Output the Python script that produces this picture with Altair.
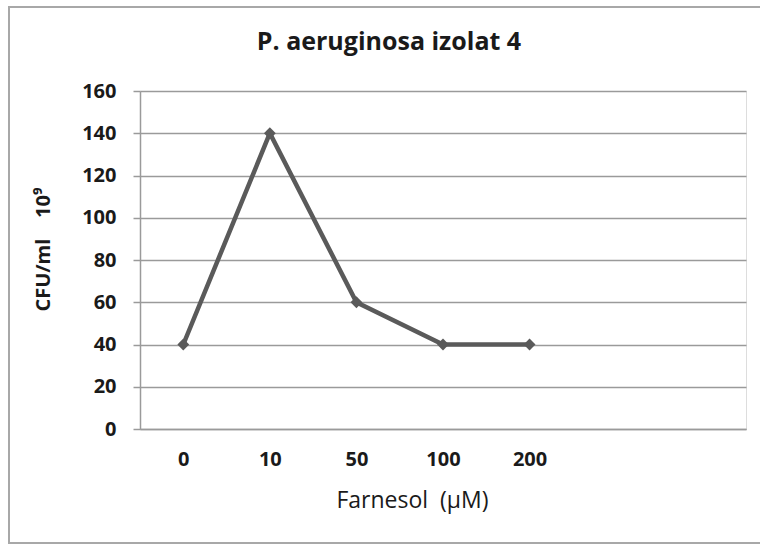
import altair as alt
import pandas as pd

concentrations = ["0", "10", "50", "100", "200"]
cfu_values = [40, 140, 60, 40, 40]
category_domain = ["0", "10", "50", "100", "200", " ", "  "]
y_ticks = [0, 20, 40, 60, 80, 100, 120, 140, 160]
chart_title = "P. aeruginosa izolat 4"
x_title = "Farnesol\u00a0\u00a0(µM)"
y_title = "CFU/ml\u00a0\u00a0\u00a0\u00a010⁹"

df = pd.DataFrame({"conc": concentrations, "cfu": cfu_values})

FONT = "Open Sans"
TEXT = "#1a1a1a"
GRID = "#9a9a9a"
LINE = "#5a5a5a"

x_enc = alt.X(
    "conc:N",
    sort=category_domain,
    scale=alt.Scale(type="point", domain=category_domain, padding=0.5),
    axis=alt.Axis(
        title=x_title,
        labelAngle=0,
        ticks=False,
        grid=False,
        domainColor=GRID,
        domainWidth=1.5,
        labelPadding=20,
        labelFont=FONT,
        labelFontWeight="bold",
        labelFontSize=20,
        labelColor=TEXT,
        titleFont=FONT,
        titleFontWeight=500,
        titleFontSize=23,
        titleColor=TEXT,
        titleX=272,
        titleY=78,
        titleAlign="center",
        titleBaseline="alphabetic",
    ),
)

y_enc = alt.Y(
    "cfu:Q",
    scale=alt.Scale(domain=[0, 160], nice=False),
    axis=alt.Axis(
        title=y_title,
        values=y_ticks,
        grid=True,
        gridColor=GRID,
        gridWidth=1.5,
        domainColor=GRID,
        domainWidth=1.5,
        tickColor=GRID,
        tickWidth=1.5,
        tickSize=7,
        labelPadding=17,
        labelFont=FONT,
        labelFontWeight="bold",
        labelFontSize=20,
        labelColor=TEXT,
        titleFont=FONT,
        titleFontWeight="bold",
        titleFontSize=20,
        titleColor=TEXT,
        titleX=-97,
        titleY=158,
        titleAngle=-90,
        titleAlign="center",
        titleBaseline="middle",
    ),
)

line = alt.Chart(df).mark_line(
    color=LINE,
    strokeWidth=4.5,
    point=alt.OverlayMarkDef(shape="diamond", size=140, filled=True, color=LINE, opacity=1),
).encode(x=x_enc, y=y_enc)

border = alt.Chart(df).mark_rect(
    fillOpacity=0, stroke="#a8a8a8", strokeWidth=2
).encode(
    x=alt.value(-131), x2=alt.value(660), y=alt.value(-84), y2=alt.value(452)
)

title_text = alt.Chart(pd.DataFrame({"t": [chart_title]})).mark_text(
    font=FONT, fontSize=25, fontWeight="bold", color=TEXT,
    align="center", baseline="alphabetic",
).encode(text="t:N", x=alt.value(249), y=alt.value(-41))

chart = alt.layer(border, line, title_text).properties(
    width=606,
    height=338,
    autosize=alt.AutoSizeParams(type="none"),
    padding={"left": 140, "top": 91, "right": 14, "bottom": 116},
).configure_view(stroke=None).configure(background="white")

chart.save("out.html", embed_options={"renderer": "svg", "actions": False})
